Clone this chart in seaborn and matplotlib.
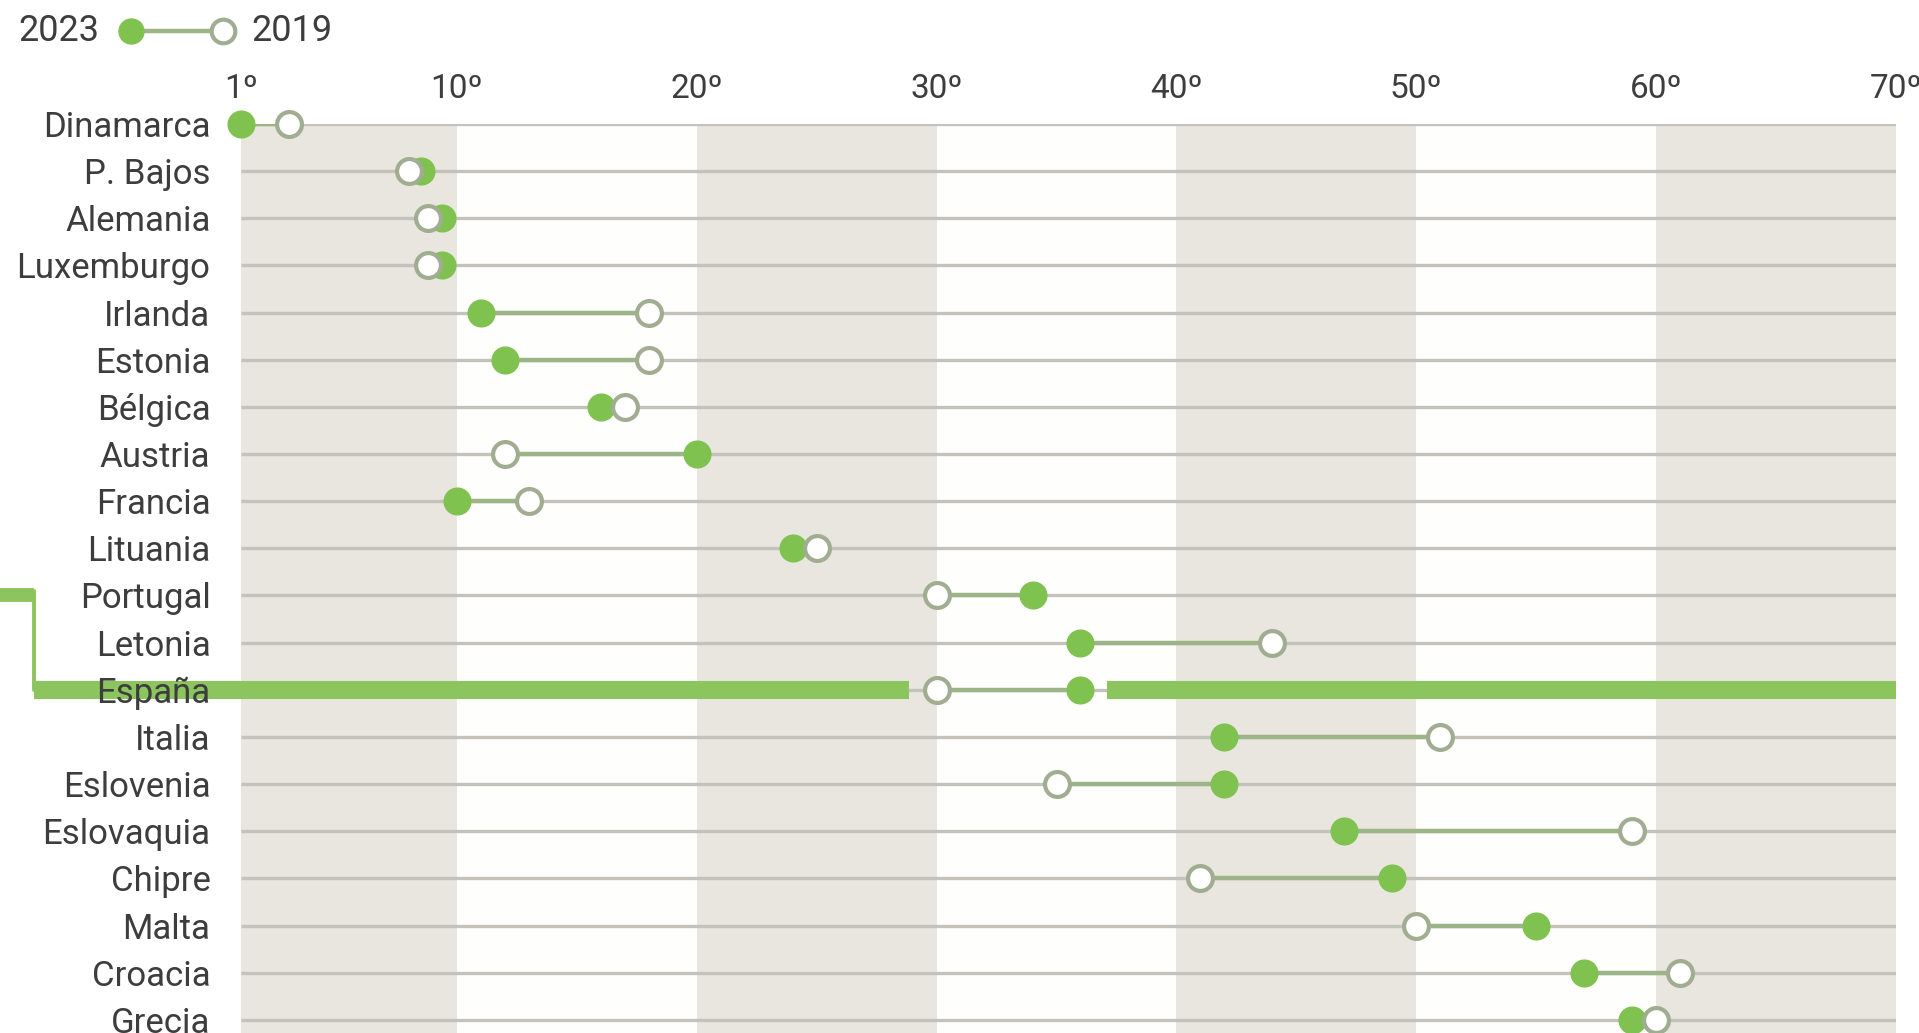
import matplotlib
matplotlib.use("Agg")
import matplotlib.pyplot as plt
from matplotlib.lines import Line2D
import seaborn as sns
import pandas as pd

countries = ["Dinamarca", "P. Bajos", "Alemania", "Luxemburgo", "Irlanda", "Estonia",
             "Bélgica", "Austria", "Francia", "Lituania", "Portugal", "Letonia",
             "España", "Italia", "Eslovenia", "Eslovaquia", "Chipre", "Malta",
             "Croacia", "Grecia"]
rank_2023 = [1, 8.5, 9.4, 9.4, 11, 12, 16, 20, 10, 24, 34, 36, 36, 42, 42, 47, 49, 55, 57, 59]
rank_2019 = [3, 8, 8.8, 8.8, 18, 18, 17, 12, 13, 25, 30, 44, 30, 51, 35, 59, 41, 50, 61, 60]
tick_values = [1, 10, 20, 30, 40, 50, 60, 70]
tick_labels = ["1º", "10º", "20º", "30º", "40º", "50º", "60º", "70º"]
highlight = "España"
bracket_from = "Portugal"

GREEN = "#80c250"
LINE_GREEN = "#9db489"
OPEN_EDGE = "#a0ad91"
BAR_GREEN = "#8cc55e"
BAND_GRAY = "#e8e6df"
BAND_WHITE = "#fefefc"
ROW_LINE = "#c3c3bb"
TEXT = "#3d3d3d"

sns.set_theme(style="white")
plt.rcParams["font.family"] = ["Roboto", "DejaVu Sans"]

df = pd.DataFrame({"country": countries, "r2023": rank_2023, "r2019": rank_2019})
df["pos"] = range(len(df))

fig = plt.figure(figsize=(19.19, 10.33), dpi=100)
ax = fig.add_axes([241 / 1919, 0, 1655 / 1919, 1 - 124 / 1033])
ax.set_xlim(1, 70)
ax.set_ylim(19.28, 0)
ax.set_axisbelow(True)

# bandas de fondo
for i, (a, b) in enumerate(zip(tick_values[:-1], tick_values[1:])):
    ax.axvspan(a, b, color=BAND_GRAY if i % 2 == 0 else BAND_WHITE, lw=0, zorder=0.1)

# lineas de fila
ax.hlines(df["pos"], 1, 70, color=ROW_LINE, lw=2.4, zorder=0.2)

# barra de España
esp = df.loc[df["country"] == highlight].iloc[0]
por = df.loc[df["country"] == bracket_from].iloc[0]
ax.hlines(esp["pos"], 1, 28.85, color=BAR_GREEN, lw=13, zorder=0.4)
ax.hlines(esp["pos"], 37.1, 70, color=BAR_GREEN, lw=13, zorder=0.4)
ytr = ax.get_yaxis_transform()
bx = -0.125
ax.plot([bx, 0], [esp["pos"], esp["pos"]], transform=ytr, color=BAR_GREEN, lw=13,
        solid_capstyle="butt", clip_on=False, zorder=0.4)
ax.plot([-0.2, bx], [por["pos"], por["pos"]], transform=ytr, color=BAR_GREEN, lw=10,
        solid_capstyle="butt", clip_on=False, zorder=0.4)
ax.plot([bx, bx], [por["pos"] - 0.1, esp["pos"]], transform=ytr, color=BAR_GREEN, lw=2.8,
        clip_on=False, zorder=0.4)

# conectores
ax.hlines(df["pos"], df["r2023"], df["r2019"], color=LINE_GREEN, lw=3.2, zorder=1)

# puntos
sns.scatterplot(data=df, x="r2023", y="pos", ax=ax, s=370, color=GREEN,
                edgecolor=GREEN, linewidth=1, zorder=3, clip_on=False, legend=False)
sns.scatterplot(data=df, x="r2019", y="pos", ax=ax, s=320, facecolor="white",
                edgecolor=OPEN_EDGE, linewidth=3, zorder=4, clip_on=False, legend=False)

ax.xaxis.tick_top()
ax.set_xticks(tick_values)
ax.set_xticklabels(tick_labels, fontsize=24, color=TEXT)
ax.set_yticks(df["pos"])
ax.set_yticklabels(df["country"], fontsize=25, color=TEXT)
ax.tick_params(axis="x", length=0, pad=14)
ax.tick_params(axis="y", length=0, pad=22)
ax.set_xlabel("")
ax.set_ylabel("")
for s in ax.spines.values():
    s.set_visible(False)

# leyenda
ly = 1 - 31 / 1033
fig.text(18 / 1919, ly, "2023", fontsize=26, color=TEXT, ha="left", va="center")
fig.text(251 / 1919, ly, "2019", fontsize=26, color=TEXT, ha="left", va="center")
fig.add_artist(Line2D([131 / 1919, 223 / 1919], [ly, ly], transform=fig.transFigure,
                      color=LINE_GREEN, lw=3.2))
fig.add_artist(Line2D([131 / 1919], [ly], transform=fig.transFigure, marker="o",
                      markersize=18, color=GREEN, markeredgecolor=GREEN, lw=0))
fig.add_artist(Line2D([223 / 1919], [ly], transform=fig.transFigure, marker="o",
                      markersize=17, markerfacecolor="white", markeredgecolor=OPEN_EDGE,
                      markeredgewidth=3, lw=0))

fig.savefig("out.png", dpi=100, facecolor="white")
